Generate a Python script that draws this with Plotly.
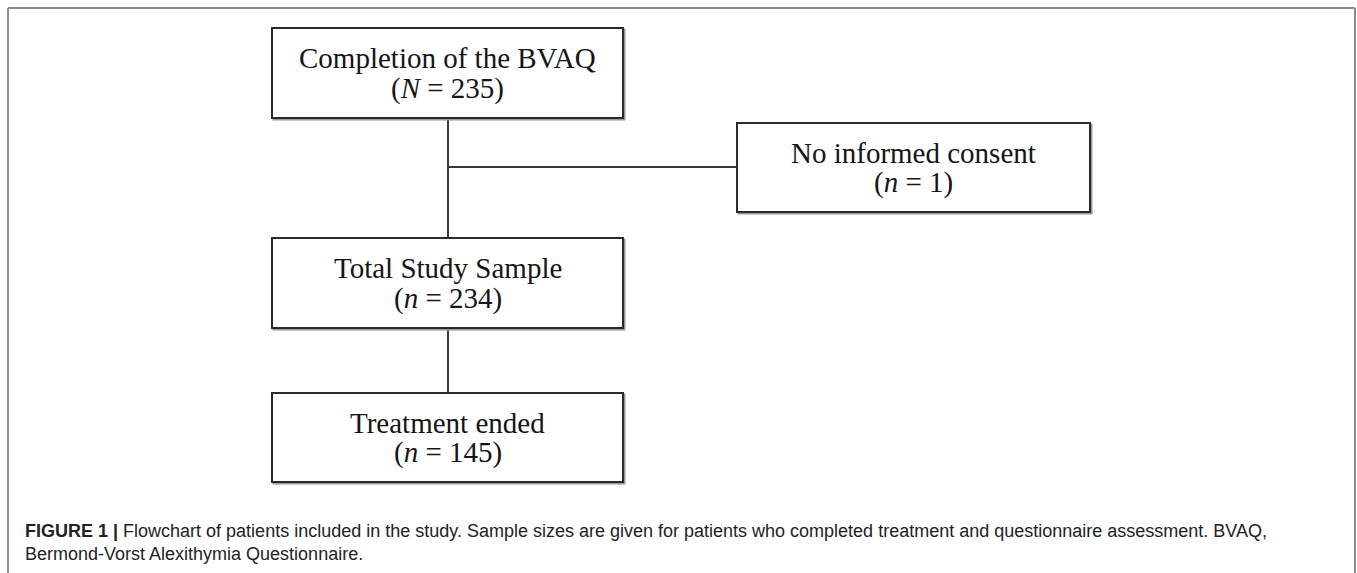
import plotly.graph_objects as go

# ---- data ----
stage_labels = ["Completion of the BVAQ", "No informed consent", "Total Study Sample", "Treatment ended"]
count_symbols = ["N", "n", "n", "n"]
count_values = [235, 1, 234, 145]
caption_bold = "FIGURE 1 |"
caption_line1 = " Flowchart of patients included in the study. Sample sizes are given for patients who completed treatment and questionnaire assessment. BVAQ,"
caption_line2 = "Bermond-Vorst Alexithymia Questionnaire."

# ---- layout (pixel canvas) ----
W, H = 1357, 573
box_geom = [  # x0, x1, y0, y1
    (272, 623, 28, 118),
    (737, 1090, 123, 212),
    (272, 623, 238, 328),
    (272, 623, 393, 482),
]
links = [  # (x0, y0, x1, y1)
    (448, 118, 448, 238),
    (448, 167, 737, 167),
    (448, 328, 448, 393),
]

fig = go.Figure()
fig.add_trace(go.Scatter(x=[0, W], y=[0, H], mode="markers", marker=dict(opacity=0), hoverinfo="skip", showlegend=False))

shapes = []
# outer frame (left, top, right)
frame_col = "#8c8c8c"
shapes.append(dict(type="line", x0=8, y0=8, x1=8, y1=H + 5, line=dict(color=frame_col, width=2)))
shapes.append(dict(type="line", x0=8, y0=8, x1=1355, y1=8, line=dict(color=frame_col, width=2)))
shapes.append(dict(type="line", x0=1355, y0=8, x1=1355, y1=H + 5, line=dict(color=frame_col, width=2)))

for (x0, y0, x1, y1) in links:
    shapes.append(dict(type="line", x0=x0, y0=y0, x1=x1, y1=y1, line=dict(color="#3a3a3a", width=2)))

for (x0, x1, y0, y1) in box_geom:
    shapes.append(dict(type="rect", x0=x0 + 1.5, x1=x1 + 1.5, y0=y0 + 1.5, y1=y1 + 1.5,
                       line=dict(color="#9a9a9a", width=2), fillcolor="#ffffff", layer="above"))
    shapes.append(dict(type="rect", x0=x0, x1=x1, y0=y0, y1=y1,
                       line=dict(color="#2a2a2a", width=2), fillcolor="#ffffff", layer="above"))

annotations = []
serif = "Liberation Serif, Times New Roman, serif"
for (x0, x1, y0, y1), lab, sym, val in zip(box_geom, stage_labels, count_symbols, count_values):
    cx = (x0 + x1) / 2
    cy = (y0 + y1) / 2
    annotations.append(dict(x=cx, y=cy - 15, text=lab, showarrow=False, xanchor="center", yanchor="middle",
                            font=dict(family=serif, size=29, color="#151515")))
    annotations.append(dict(x=cx, y=cy + 15, text=f"(<i>{sym}</i> = {val})", showarrow=False,
                            xanchor="center", yanchor="middle",
                            font=dict(family=serif, size=29, color="#151515")))

sans = "Liberation Sans, Arial, Helvetica, sans-serif"
annotations.append(dict(x=23, y=531, text=f"<b>{caption_bold}</b>{caption_line1}", showarrow=False,
                        xanchor="left", yanchor="middle", font=dict(family=sans, size=18, color="#222222")))
annotations.append(dict(x=23, y=554, text=caption_line2, showarrow=False,
                        xanchor="left", yanchor="middle", font=dict(family=sans, size=18, color="#222222")))

fig.update_layout(
    width=W, height=H, margin=dict(l=0, r=0, t=0, b=0),
    paper_bgcolor="white", plot_bgcolor="white",
    xaxis=dict(range=[0, W], visible=False, fixedrange=True),
    yaxis=dict(range=[H, 0], visible=False, fixedrange=True),
    shapes=shapes, annotations=annotations, showlegend=False,
)

fig.write_html("out.html", config={"displayModeBar": False},
               post_script="document.body.style.margin='0';document.body.style.overflow='hidden';")
